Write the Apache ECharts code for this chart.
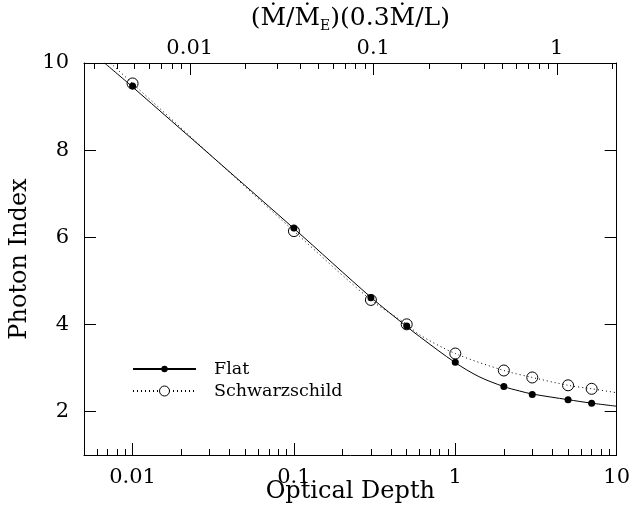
<!DOCTYPE html>
<html>
<head>
<meta charset="utf-8">
<script src="https://cdn.jsdelivr.net/npm/echarts@6/dist/echarts.min.js"></script>
<style>html,body{margin:0;padding:0;background:#fff}#c{width:633px;height:518px}</style>
</head>
<body>
<div id="c"></div>
<script>
// Data points (optical depth, photon index)
const tauPts = [0.01, 0.1, 0.3, 0.5, 1, 2, 3, 5, 7];
const flatPts = [9.47, 6.21, 4.61, 3.96, 3.13, 2.57, 2.39, 2.27, 2.19];
const schwPts = [9.53, 6.14, 4.56, 4.00, 3.33, 2.94, 2.78, 2.60, 2.52];
// Model curves
const flatCurveTau = [0.0067, 0.01, 0.1, 0.3, 0.5, 0.6, 1, 1.4, 2, 2.5, 3, 5, 7, 10];
const flatCurveVal = [10.0, 9.45, 6.2, 4.62, 3.95, 3.72, 3.12, 2.80, 2.57, 2.47, 2.40, 2.27, 2.19, 2.12];
const schwCurveTau = [0.0073, 0.01, 0.1, 0.3, 0.5, 0.6, 1, 2, 3, 5, 7, 10];
const schwCurveVal = [10.0, 9.53, 6.14, 4.56, 4.00, 3.76, 3.33, 2.94, 2.78, 2.60, 2.52, 2.43];
// Ticks
const bottomMajor = [0.01, 0.1, 1, 10];
const bottomMinor = [0.006, 0.007, 0.008, 0.009, 0.02, 0.03, 0.04, 0.05, 0.06, 0.07, 0.08, 0.09,
  0.2, 0.3, 0.4, 0.5, 0.6, 0.7, 0.8, 0.9, 2, 3, 4, 5, 6, 7, 8, 9];
const topMajor = [0.01, 0.1, 1];
const topMinor = [0.003, 0.004, 0.005, 0.006, 0.007, 0.008, 0.009, 0.02, 0.03, 0.04, 0.05, 0.06, 0.07, 0.08, 0.09,
  0.2, 0.3, 0.4, 0.5, 0.6, 0.7, 0.8, 0.9, 2];
const yTicks = [2, 4, 6, 8, 10];
const bottomRange = [0.005, 10];
const topRange = [0.002654, 2.119];
const yRange = [1, 10];

const FONT = 'DejaVu Serif';
const BLK = '#000';
const fmt = v => String(parseFloat(Number(v).toPrecision(6)));
const zip = (a, b) => a.map((x, i) => [x, b[i]]);
const lg = a => a.map(v => Math.log10(v));

function mainAxis(pos, range, labels, extra) {
  return Object.assign({
    type: 'log', logBase: 10, position: pos, min: range[0], max: range[1], offset: 0,
    axisLine: { show: true, onZero: false, lineStyle: { color: BLK, width: 1 } },
    axisTick: { show: false },
    axisLabel: { show: true, customValues: labels, formatter: fmt, color: BLK, fontFamily: FONT, fontSize: 21,
      margin: pos === 'bottom' ? 12 : 4 },
    splitLine: { show: false }, minorTick: { show: false }
  }, extra || {});
}
function tickAxis(range, ticks, len) {
  return {
    type: 'value', position: 'bottom', min: Math.log10(range[0]), max: Math.log10(range[1]), offset: 0,
    axisLine: { show: false, onZero: false },
    axisTick: { show: true, inside: true, length: len, customValues: lg(ticks), lineStyle: { color: BLK, width: 1 } },
    axisLabel: { show: false }, splitLine: { show: false }
  };
}
function topToBottom(u) {
  const k = Math.log10(bottomRange[1] / bottomRange[0]) / Math.log10(topRange[1] / topRange[0]);
  return Math.pow(10, Math.log10(bottomRange[0]) + (Math.log10(u) - Math.log10(topRange[0])) * k);
}

const chart = echarts.init(document.getElementById('c'), null, { renderer: 'canvas' });
chart.setOption({
  backgroundColor: '#fff',
  animation: false,
  grid: { left: 83, top: 63, width: 534, height: 392, containLabel: false },
  xAxis: [
    mainAxis('bottom', bottomRange, bottomMajor, {
      name: 'Optical Depth', nameLocation: 'middle', nameGap: 25, nameMoveOverlap: false,
      nameTextStyle: { color: BLK, fontFamily: FONT, fontSize: 24 }
    }),
    mainAxis('top', topRange, topMajor, {
      name: '{a|(Ṁ/Ṁ}{s|E}{a|)(0.3Ṁ/L)}', nameLocation: 'middle', nameGap: 30, nameMoveOverlap: false,
      nameTextStyle: { color: BLK, fontFamily: FONT, fontSize: 25,
        rich: { a: { color: BLK, fontFamily: FONT, fontSize: 25, lineHeight: 29 },
                s: { color: BLK, fontFamily: FONT, fontSize: 14, lineHeight: 16, verticalAlign: 'bottom' } } }
    }),
    tickAxis(bottomRange, bottomMajor, 12),
    tickAxis(bottomRange, bottomMinor, 6)
  ],
  yAxis: [
    { type: 'value', position: 'left', min: yRange[0], max: yRange[1], offset: 0,
      axisLine: { show: true, onZero: false, lineStyle: { color: BLK, width: 1 } },
      axisTick: { show: true, inside: true, length: 12, customValues: yTicks, lineStyle: { color: BLK } },
      axisLabel: { customValues: yTicks, color: BLK, fontFamily: FONT, fontSize: 21, margin: 15 },
      splitLine: { show: false },
      name: 'Photon Index', nameLocation: 'middle', nameGap: 52, nameRotate: 90, nameMoveOverlap: false,
      nameTextStyle: { color: BLK, fontFamily: FONT, fontSize: 24 } },
    { type: 'value', position: 'right', min: yRange[0], max: yRange[1], offset: 0,
      axisLine: { show: true, onZero: false, lineStyle: { color: BLK, width: 1 } },
      axisTick: { show: true, inside: true, length: 12, customValues: yTicks, lineStyle: { color: BLK } },
      axisLabel: { show: false }, splitLine: { show: false } }
  ],
  legend: [
    { data: ['Flat'], orient: 'vertical', left: 132, top: 360, padding: 0,
      itemWidth: 63, itemHeight: 8,
      textStyle: { color: BLK, fontFamily: FONT, fontSize: 17.5, padding: [0, 0, 0, 13] } },
    { data: [{ name: 'Schwarzschild', itemStyle: { color: '#fff', borderColor: BLK, borderWidth: 1 } }],
      orient: 'vertical', left: 132, top: 382, padding: 0,
      itemWidth: 63, itemHeight: 12.5,
      textStyle: { color: BLK, fontFamily: FONT, fontSize: 17.5, padding: [0, 0, 0, 13] } }
  ],
  series: [
    { name: 'Flat', type: 'line', xAxisIndex: 0, yAxisIndex: 0, smooth: 0.3,
      symbol: 'circle', showSymbol: false, symbolSize: 7,
      itemStyle: { color: BLK },
      lineStyle: { color: BLK, width: 1, type: 'solid' },
      data: zip(flatCurveTau, flatCurveVal), z: 2 },
    { name: 'Schwarzschild', type: 'line', xAxisIndex: 0, yAxisIndex: 0, smooth: 0.3,
      symbol: 'circle', showSymbol: false, symbolSize: 10,
      itemStyle: { color: '#fff', borderColor: BLK, borderWidth: 1 },
      lineStyle: { color: BLK, width: 1, type: [1, 3] },
      data: zip(schwCurveTau, schwCurveVal), z: 2 },
    { name: 'Schwarzschild', type: 'scatter', xAxisIndex: 0, yAxisIndex: 0,
      symbol: 'circle', symbolSize: 11,
      itemStyle: { color: 'rgba(255,255,255,0)', borderColor: BLK, borderWidth: 1, opacity: 1 },
      data: zip(tauPts, schwPts), z: 3 },
    { name: 'Flat', type: 'scatter', xAxisIndex: 0, yAxisIndex: 0,
      symbol: 'circle', symbolSize: 7,
      itemStyle: { color: BLK, opacity: 1 },
      data: zip(tauPts, flatPts), z: 4 }
  ]
});

// Top-axis tick marks: positions come from the chart's own top log axis (fallback: bottom axis)
function topX(u) {
  let x = chart.convertToPixel({ xAxisIndex: 1 }, u);
  if (typeof x !== 'number' || !isFinite(x)) x = chart.convertToPixel({ xAxisIndex: 0 }, topToBottom(u));
  return x;
}
let yTop = chart.convertToPixel({ yAxisIndex: 0 }, yRange[1]);
if (typeof yTop !== 'number' || !isFinite(yTop)) yTop = chart.convertToPixel({ seriesIndex: 0 }, [1, yRange[1]])[1];
const tickEls = [];
[[topMajor, 12], [topMinor, 6]].forEach(([arr, len]) => {
  arr.forEach(u => {
    const x = Math.round(topX(u)) + 0.5;
    tickEls.push({ type: 'line', z: 100, silent: true,
      shape: { x1: x, y1: Math.round(yTop), x2: x, y2: Math.round(yTop) + len },
      style: { stroke: BLK, lineWidth: 1 } });
  });
});
chart.setOption({ graphic: tickEls });
</script>
</body>
</html>
